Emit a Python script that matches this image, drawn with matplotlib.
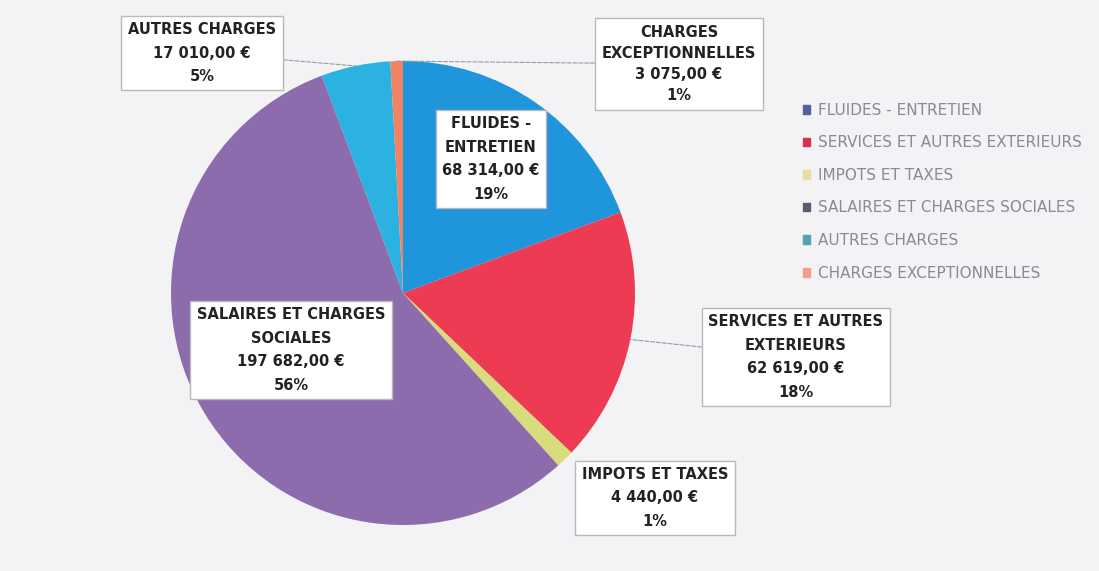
import matplotlib
matplotlib.use('Agg')
import matplotlib.pyplot as plt
import numpy as np

# postes de charges
legend_names = ['FLUIDES - ENTRETIEN', 'SERVICES ET AUTRES EXTERIEURS', 'IMPOTS ET TAXES',
                'SALAIRES ET CHARGES SOCIALES', 'AUTRES CHARGES', 'CHARGES EXCEPTIONNELLES']
label_names = ['FLUIDES -\nENTRETIEN', 'SERVICES ET AUTRES\nEXTERIEURS', 'IMPOTS ET TAXES',
               'SALAIRES ET CHARGES\nSOCIALES', 'AUTRES CHARGES', 'CHARGES\nEXCEPTIONNELLES']
values = [68314.00, 62619.00, 4440.00, 197682.00, 17010.00, 3075.00]
colors = ['#1f96dc', '#ec3b52', '#d9dc7c', '#8c6cac', '#2cb2e0', '#f08462']
legend_colors = ['#51619c', '#d2344e', '#e9dca2', '#5c5a72', '#4fa4ba', '#f2a08e']

# position des étiquettes (pixels) et lignes de rappel
label_pos = [(491, 159), (796, 357), (655, 498), (291, 350), (202, 53), (679, 64)]
label_ls = [1.7, 1.7, 1.7, 1.7, 1.7, 1.5]
leader = [False, True, False, False, True, True]

W, H = 1099, 571
fig = plt.figure(figsize=(W / 100, H / 100), dpi=100)
fig.patch.set_facecolor('#f3f2f5')

cx, cy, r = 403, 293, 232
ax = fig.add_axes([(cx - r) / W, (H - cy - r) / H, 2 * r / W, 2 * r / H])
ax.set_aspect('equal')
ax.axis('off')

wedges, _ = ax.pie(values, colors=colors, startangle=90, counterclock=False,
                   wedgeprops=dict(linewidth=0))
ax.set_xlim(-1, 1)
ax.set_ylim(-1, 1)

total = sum(values)


def fmt_eur(v):
    s = '{:,.2f}'.format(v).replace(',', ' ').replace('.', ',')
    return s + ' €'


for i, w in enumerate(wedges):
    pct = int(round(values[i] / total * 100))
    txt = '%s\n%s\n%d%%' % (label_names[i], fmt_eur(values[i]), pct)
    px, py = label_pos[i]
    xt, yt = px / W, 1 - py / H
    box = dict(boxstyle='square,pad=0.45', fc='white', ec='#b8b8bc', lw=1.0)
    if leader[i]:
        th = np.deg2rad((w.theta1 + w.theta2) / 2)
        ax.annotate(txt, xy=(np.cos(th), np.sin(th)), xycoords='data',
                    xytext=(xt, yt), textcoords='figure fraction',
                    ha='center', va='center', fontsize=10.5, fontweight='bold',
                    color='#222222', linespacing=label_ls[i], bbox=box,
                    arrowprops=dict(arrowstyle='-', color='#9a9aa0', lw=0.8,
                                    linestyle='--', shrinkA=0, shrinkB=0))
    else:
        fig.text(xt, yt, txt, ha='center', va='center', fontsize=10.5,
                 fontweight='bold', color='#222222', linespacing=label_ls[i], bbox=box)

handles = [plt.Rectangle((0, 0), 1, 1, color=c) for c in legend_colors]
fig.legend(handles, legend_names, loc='upper left', bbox_to_anchor=(789 / W, 1 - 89 / H),
           frameon=False, fontsize=11, labelcolor='#8a8a96', handlelength=0.5,
           handleheight=0.5, handletextpad=0.5, labelspacing=1.15)

fig.savefig('out.png', dpi=100, facecolor=fig.get_facecolor())
